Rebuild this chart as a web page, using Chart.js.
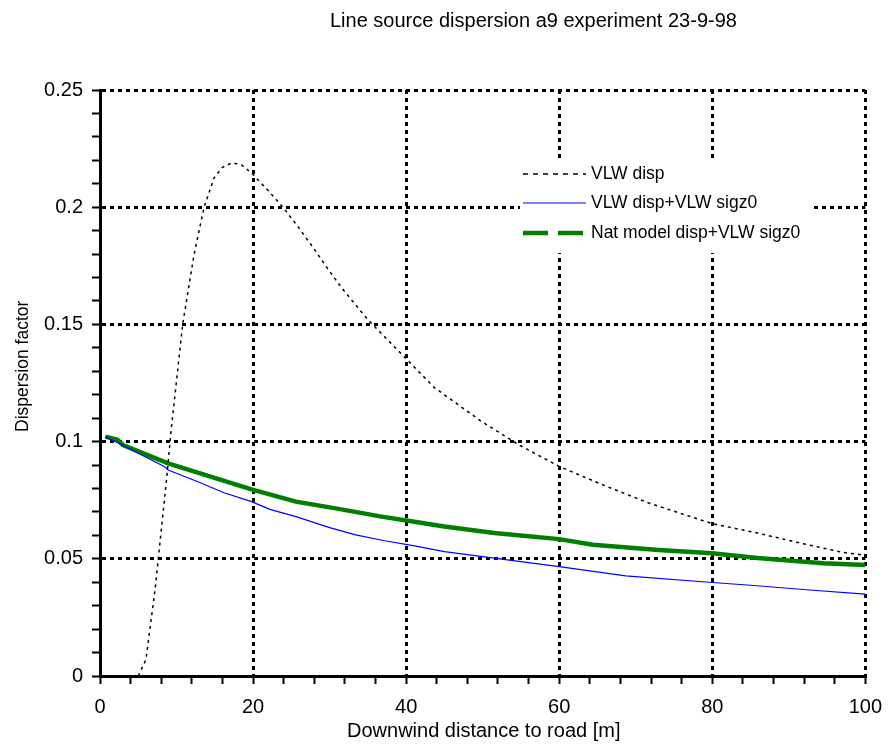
<!DOCTYPE html>
<html>
<head>
<meta charset="utf-8">
<script src="https://cdn.jsdelivr.net/npm/chart.js@4"></script>
<style>
  html, body { margin: 0; padding: 0; background: #fff; }
  #Chart1 { display: block; }
</style>
</head>
<body>
<canvas id="Chart1" width="893" height="753"></canvas>
<script>
// values
const vlwX = [5, 6, 7.2, 7.6, 8.7, 9.3, 10.8, 12.3, 13.6, 14.9, 16, 17.3, 18.5, 19.8, 22, 23.9, 25.8, 27.8, 29.7, 31.6, 35, 38.6, 43.7, 49.8, 54.7, 60, 66.1, 71.7, 80, 85.9, 91.5, 97.1, 100];
const vlwY = [0, 0.007, 0.037, 0.0495, 0.084, 0.105, 0.15, 0.18, 0.2, 0.2125, 0.217, 0.219, 0.218, 0.2146, 0.207, 0.2, 0.192, 0.183, 0.174, 0.1655, 0.152, 0.14, 0.123, 0.1087, 0.0987, 0.0894, 0.081, 0.0738, 0.065, 0.061, 0.0567, 0.0527, 0.0515];

const sigX = [0.7, 2.45, 5, 8.45, 8.9, 12.8, 16.2, 19.8, 22.2, 25.6, 29.9, 33.4, 37.2, 41.1, 45, 51.5, 60, 68.7, 80, 85.9, 92.3, 100];
const sigY = [0.102, 0.0993, 0.095, 0.0893, 0.0879, 0.0829, 0.0782, 0.0744, 0.0711, 0.068, 0.0634, 0.0602, 0.0577, 0.0555, 0.0531, 0.0503, 0.0467, 0.0427, 0.0399, 0.0385, 0.0368, 0.0349];

const natX = [0.7, 2.3, 3, 8.9, 19.8, 25.6, 30.8, 36.8, 41.1, 45, 51.5, 60, 64.4, 73, 80, 85.9, 94.5, 100];
const natY = [0.1021, 0.1008, 0.0985, 0.0907, 0.0796, 0.0744, 0.0715, 0.068, 0.0658, 0.0638, 0.061, 0.0584, 0.056, 0.0538, 0.0524, 0.0503, 0.0481, 0.0474];

const seriesNames = ['VLW disp', 'VLW disp+VLW sigz0', 'Nat model disp+VLW sigz0'];
const yTicks = [0, 0.05, 0.1, 0.15, 0.2, 0.25];
const xTicks = [0, 20, 40, 60, 80, 100];

const titleText = 'Line source dispersion a9 experiment 23-9-98';
const xTitle = 'Downwind distance to road [m]';
const yTitle = 'Dispersion factor';

const FONT = "'Liberation Sans', Arial, sans-serif";

const pts = (xs, ys) => xs.map((x, i) => ({ x: x, y: ys[i] }));
const isMajor = (v, list) => list.some(t => Math.abs(t - v) < 1e-6);

// titles and the boxed legend drawn on the canvas
const extras = {
  id: 'extras',
  afterDraw(chart) {
    const c = chart.ctx;
    c.save();
    c.fillStyle = '#000';
    c.textBaseline = 'alphabetic';
    c.textAlign = 'left';
    c.font = '20px ' + FONT;
    c.fillText(titleText, 330, 27);
    c.fillText(xTitle, 347, 737);
    c.font = '17.5px ' + FONT;
    c.translate(28, 432);
    c.rotate(-Math.PI / 2);
    c.fillText(yTitle, 0, 0);
    c.restore();

    c.save();
    c.fillStyle = '#fff';
    c.fillRect(520, 158, 292, 95);
    const ds = chart.data.datasets;
    const rows = [174, 203, 233];
    for (let i = 0; i < 3; i++) {
      const y = rows[i];
      c.beginPath();
      c.strokeStyle = ds[i].borderColor;
      c.lineWidth = ds[i].borderWidth;
      c.setLineDash(i == 0 ? [5, 5] : (i == 2 ? [25, 10] : []));
      c.moveTo(523, y);
      c.lineTo(586, y);
      c.stroke();
      c.setLineDash([]);
      c.fillStyle = '#000';
      c.font = '17.5px ' + FONT;
      c.textBaseline = 'middle';
      c.fillText(seriesNames[i], 591, y);
    }
    c.restore();
  }
};

var ctx = document.getElementById('Chart1').getContext('2d');
const data = {
  datasets: [{
      label: seriesNames[0],
      data: pts(vlwX, vlwY),
      borderColor: '#000000',
      borderWidth: 1.5,
      borderDash: [3, 4],
      pointRadius: 0,
      fill: false
    },
    {
      label: seriesNames[1],
      data: pts(sigX, sigY),
      borderColor: '#0000ff',
      borderWidth: 1.2,
      pointRadius: 0,
      fill: false
    },
    {
      label: seriesNames[2],
      data: pts(natX, natY),
      borderColor: '#008000',
      borderWidth: 4.5,
      pointRadius: 0,
      fill: false
    }
  ]
};

const config = {
  type: 'line',
  data: data,
  options: {
    responsive: false,
    animation: false,
    layout: { padding: { top: 90, right: 17, bottom: 0, left: 0 } },
    plugins: {
      legend: { display: false },
      title: { display: false },
      tooltip: { enabled: false }
    },
    scales: {
      x: {
        type: 'linear',
        min: 0,
        max: 100,
        afterFit: (s) => { s.height = 77; },
        border: { display: true, color: '#000', width: 3, dash: [4, 4] },
        grid: {
          color: (c) => isMajor(c.tick.value, xTicks) ? '#000' : 'rgba(0,0,0,0)',
          lineWidth: 3,
          tickColor: '#000',
          tickLength: 8,
          tickWidth: 2
        },
        ticks: {
          stepSize: 4,
          autoSkip: false,
          maxRotation: 0,
          padding: 11,
          color: '#000',
          font: { family: FONT, size: 20 },
          callback: (v) => isMajor(v, xTicks) ? String(v) : ''
        }
      },
      y: {
        type: 'linear',
        min: 0,
        max: 0.25,
        afterFit: (s) => { s.width = 100; },
        border: { display: true, color: '#000', width: 3, dash: [4, 4] },
        grid: {
          color: (c) => isMajor(c.tick.value, yTicks) ? '#000' : 'rgba(0,0,0,0)',
          lineWidth: 3,
          tickColor: '#000',
          tickLength: 8,
          tickWidth: 2
        },
        ticks: {
          stepSize: 0.01,
          autoSkip: false,
          padding: 9,
          color: '#000',
          font: { family: FONT, size: 20 },
          callback: (v) => isMajor(v, yTicks) ? String(Math.round(v * 100) / 100) : ''
        }
      }
    }
  },
  plugins: [extras]
};

var myChart1 = new Chart(ctx, config);
</script>
</body>
</html>
